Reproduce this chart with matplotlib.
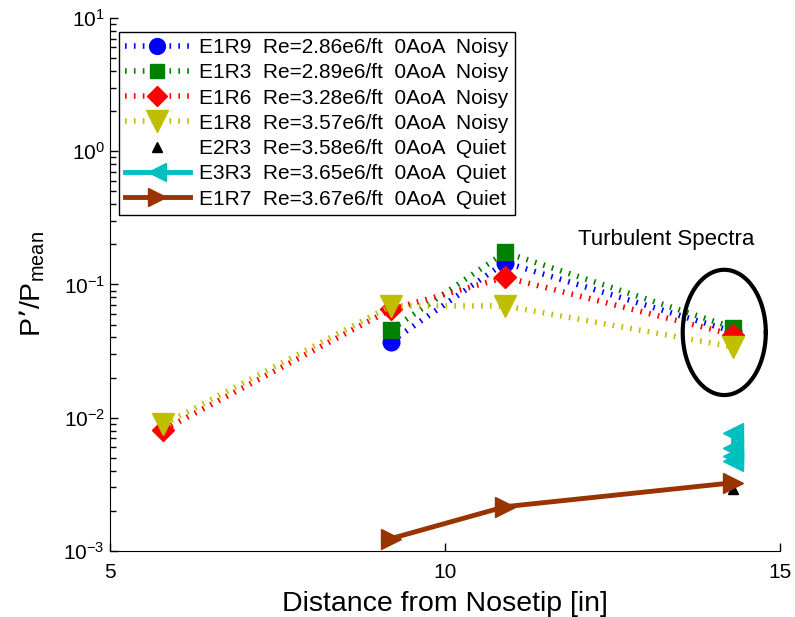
import matplotlib
matplotlib.use('Agg')
import matplotlib.pyplot as plt
import numpy as np
from matplotlib.ticker import LogLocator, LogFormatterMathtext, NullFormatter

plt.rcParams['font.family'] = ['Liberation Sans', 'DejaVu Sans']
plt.rcParams['mathtext.default'] = 'regular'

# sensor locations along the body [in]
x_noisy = [5.8, 9.2, 10.9, 14.3]
x_late = [9.2, 10.9, 14.3]

# P'/Pmean per run
e1r9 = [0.0373, 0.146, 0.0443]
e1r3 = [0.0459, 0.174, 0.0475]
e1r6 = [0.0081, 0.065, 0.113, 0.042]
e1r8 = [0.0089, 0.069, 0.069, 0.034]
x_e2r3 = [14.3]
e2r3 = [0.0029]
x_e3r3 = [14.3, 14.3, 14.3, 14.3]
e3r3 = [0.0077, 0.0059, 0.0052, 0.0047]
x_e1r7 = [9.2, 10.9, 14.3]
e1r7 = [0.00124, 0.00215, 0.00325]

labels = ['E1R9  Re=2.86e6/ft  0AoA  Noisy',
          'E1R3  Re=2.89e6/ft  0AoA  Noisy',
          'E1R6  Re=3.28e6/ft  0AoA  Noisy',
          'E1R8  Re=3.57e6/ft  0AoA  Noisy',
          'E2R3  Re=3.58e6/ft  0AoA  Quiet',
          'E3R3  Re=3.65e6/ft  0AoA  Quiet',
          'E1R7  Re=3.67e6/ft  0AoA  Quiet']

fig = plt.figure(figsize=(7.95, 6.17), dpi=100)
ax = fig.add_axes([0.138, 0.107, 0.843, 0.864])

dots = (0, (0.3, 1.3))
ax.plot(x_late, e1r9, color='blue', ls=dots, lw=4, marker='o', ms=12, label=labels[0])
ax.plot(x_late, e1r3, color=(0, 0.5, 0), ls=dots, lw=4, marker='s', ms=11, label=labels[1])
ax.plot(x_noisy, e1r6, color='red', ls=dots, lw=4, marker='D', ms=11, label=labels[2])
ax.plot(x_noisy, e1r8, color=(0.75, 0.75, 0), ls=dots, lw=4, marker='v', ms=16, label=labels[3])
ax.plot(x_e2r3, e2r3, color='black', ls='none', marker='^', ms=7, label=labels[4])
ax.plot(x_e3r3, e3r3, color=(0, 0.75, 0.75), ls='-', lw=3.5, marker='<', ms=14, label=labels[5])
ax.plot(x_e1r7, e1r7, color=(0.6, 0.2, 0), ls='-', lw=3.5, marker='>', ms=14, label=labels[6])

# ring around the turbulent spectra points
t = np.linspace(0, 2 * np.pi, 200)
ax.plot(14.17 + 0.62 * np.cos(t), 10 ** (-1.36 + 0.47 * np.sin(t)), color='black', lw=3)
ax.text(13.3, 10 ** (-0.66), 'Turbulent Spectra', fontsize=16, ha='center', va='center')

ax.set_yscale('log')
ax.set_xlim(5, 15)
ax.set_ylim(1e-3, 1e1)
ax.set_xticks([5, 10, 15])
ax.yaxis.set_major_locator(LogLocator(base=10, numticks=10))
ax.yaxis.set_major_formatter(LogFormatterMathtext())
ax.yaxis.set_minor_locator(LogLocator(base=10, subs=np.arange(2, 10), numticks=20))
ax.yaxis.set_minor_formatter(NullFormatter())
ax.tick_params(which='both', direction='in', labelsize=15, width=1)
ax.tick_params(which='major', length=6)
ax.tick_params(which='minor', length=4)
ax.tick_params(axis='x', pad=9)
ax.spines['top'].set_visible(False)
ax.spines['right'].set_visible(False)

ax.set_xlabel('Distance from Nosetip [in]', fontsize=20.5, labelpad=6)
ax.set_ylabel("P’/P$_{mean}$", fontsize=20.5, labelpad=12)

leg = ax.legend(loc='upper left', bbox_to_anchor=(0.0134, 0.974), borderaxespad=0,
                fontsize=15, frameon=True, fancybox=False, edgecolor='black',
                framealpha=1, handlelength=3.1, borderpad=0.3, labelspacing=0.3,
                handletextpad=0.45, markerscale=0.95)
leg.get_frame().set_linewidth(1)

fig.savefig('out.png', dpi=100)
